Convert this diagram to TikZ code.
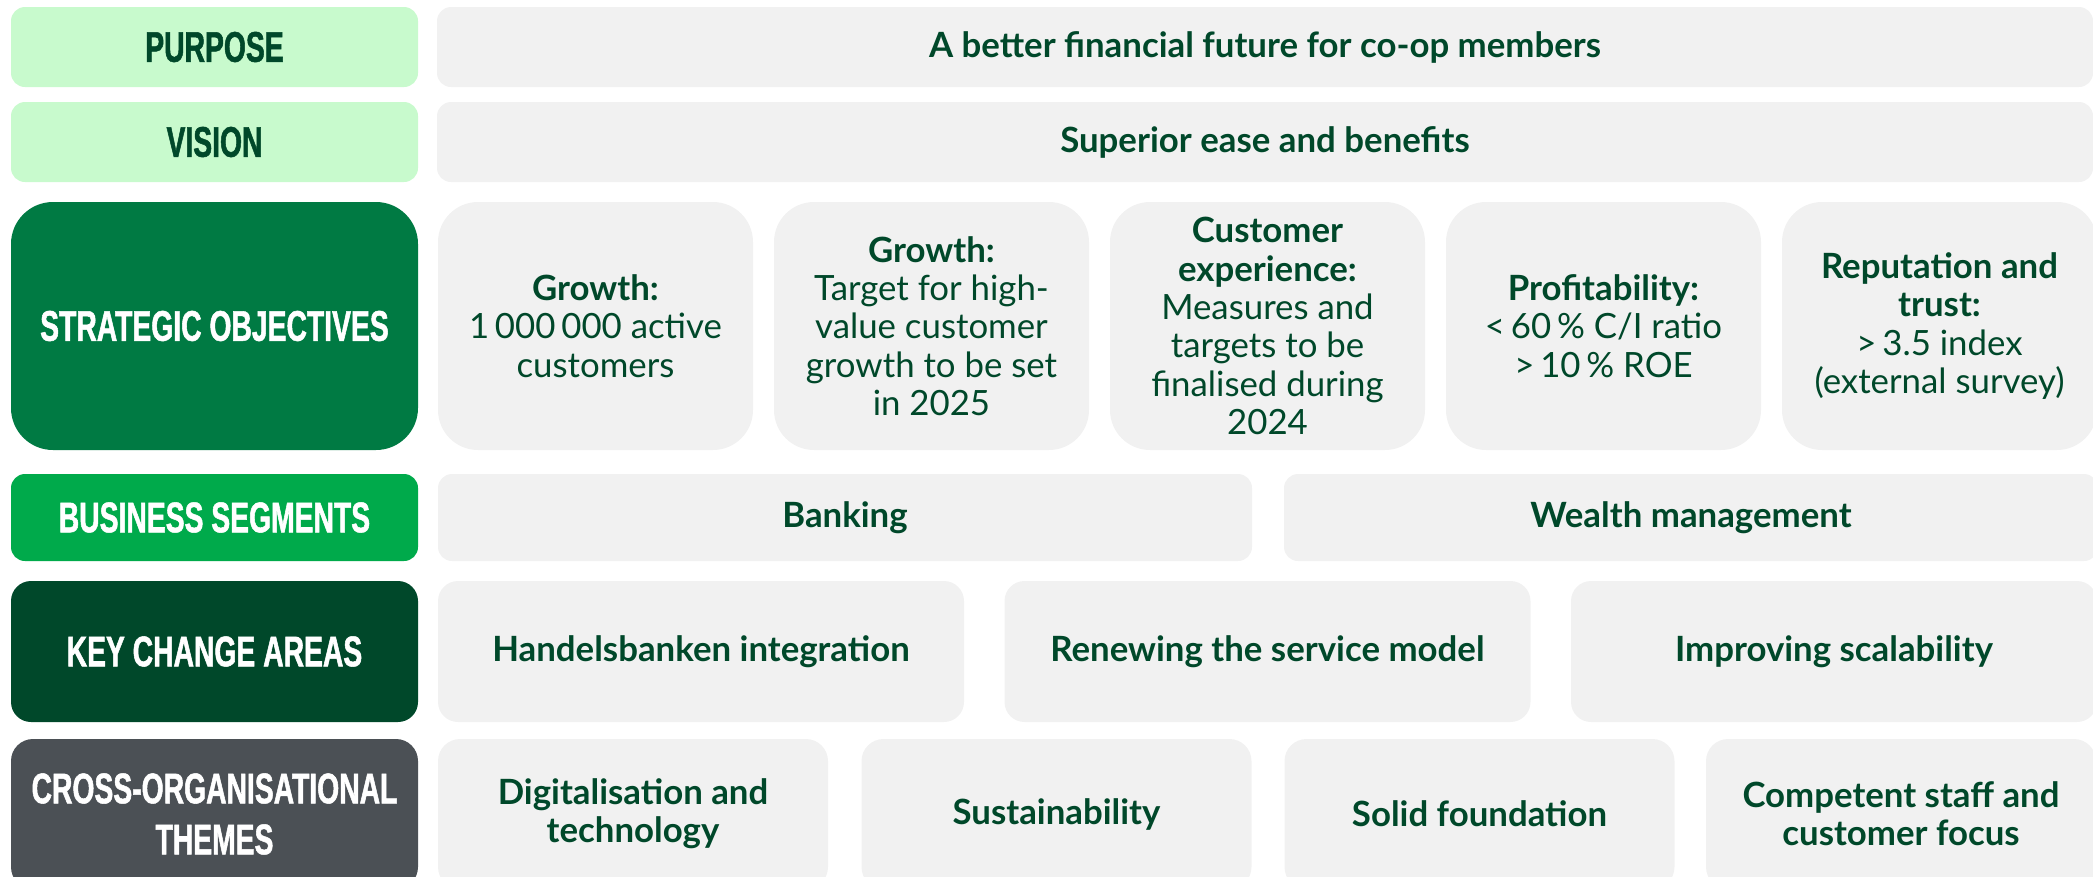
\documentclass[tikz,border=0pt]{standalone}
\usepackage{fontspec}
\setmainfont{Lato}
\newfontfamily\headfont[FakeStretch=0.66, FakeBold=1.2]{Liberation Sans}
\usetikzlibrary{positioning}

\definecolor{mint}{HTML}{C8FACD}
\definecolor{leaf}{HTML}{007A43}
\definecolor{grass}{HTML}{00AA4B}
\definecolor{forest}{HTML}{00482A}
\definecolor{slate}{HTML}{4B5055}
\definecolor{cellgray}{HTML}{F1F1F1}

\tikzset{
  wh/.style n args={2}{minimum width=#1*0.1mm, minimum height=#2*0.1mm}
}

\begin{document}
\begin{tikzpicture}[
  x=0.1mm, y=-0.1mm,
  tag/.style={rounded corners=1.4mm, inner sep=0pt, align=center, text=white,
    font=\headfont\bfseries\fontsize{12.2}{14.5}\selectfont},
  cell/.style={fill=cellgray, rounded corners=1.4mm, inner sep=0pt, align=center,
    text=forest, font=\fontsize{9.9}{10.9}\selectfont},
  goal/.style={cell, rounded corners=4mm, minimum width=31.5mm, minimum height=24.8mm}
]
  \clip (0,0) rectangle (2093,876);

  % row labels on the left
  \node[tag, fill=mint, text=forest, wh={407}{80}] (purpose) at (214.5,47) {PURPOSE};
  \node[tag, fill=mint, text=forest, wh={407}{80}] (vision) at (214.5,142) {VISION};
  \node[tag, fill=leaf, rounded corners=4.2mm, wh={407}{248}] (objectives) at (214.5,326) {STRATEGIC OBJECTIVES};
  \node[tag, fill=grass, wh={407}{87}] (segments) at (214.5,517.5) {BUSINESS SEGMENTS};
  \node[tag, fill=forest, rounded corners=2mm, wh={407}{141}] (change) at (214.5,651.5) {KEY CHANGE AREAS};
  \node[tag, fill=slate, rounded corners=2.2mm, wh={407}{150}] (themes) at (214.5,814)
    {CROSS-ORGANISATIONAL\\THEMES};

  % purpose and vision
  \node[cell, wh={1656}{80}] (purposeTxt) at (1265,47) {\bfseries A better financial future for co-op members};
  \node[cell, wh={1656}{80}] (visionTxt) at (1265,142) {\bfseries Superior ease and benefits};

  % strategic objectives
  \node[goal] (growthA) at (595.5,326) {\textbf{Growth:}\\1\,000\,000 active\\customers};
  \node[goal] (growthB) at (931.5,326) {\textbf{Growth:}\\Target for high-\\value customer\\growth to be set\\in 2025};
  \node[goal] (experience) at (1267.5,326)
    {\textbf{Customer}\\\textbf{experience:}\\Measures and\\targets to be\\finalised during\\2024};
  \node[goal] (profit) at (1603.5,326) {\textbf{Profitability:}\\<\,60\,\% C/I ratio\\>\,10\,\% ROE};
  \node[goal] (reputation) at (1939.5,326)
    {\textbf{Reputation and}\\\textbf{trust:}\\>\,3.5 index\\(external survey)};

  % business segments
  \node[cell, wh={814}{87}] (banking) at (845,517.5) {\bfseries Banking};
  \node[cell, wh={814}{87}] (wealth) at (1691,517.5) {\bfseries Wealth management};

  % key change areas
  \node[cell, rounded corners=2mm, wh={526}{141}] (integration) at (701,651.5) {\bfseries Handelsbanken integration};
  \node[cell, rounded corners=2mm, wh={526}{141}] (service) at (1267.5,651.5) {\bfseries Renewing the service model};
  \node[cell, rounded corners=2mm, wh={526}{141}] (scalability) at (1834,651.5) {\bfseries Improving scalability};

  % cross-organisational themes
  \node[cell, rounded corners=2.2mm, wh={390}{150}] (digital) at (633,814) {\bfseries Digitalisation and\\\bfseries technology};
  \node[cell, rounded corners=2.2mm, wh={390}{150}] (sustain) at (1056.5,814) {\bfseries Sustainability};
  \node[cell, rounded corners=2.2mm, wh={390}{150}] (foundation) at (1479.5,814) {\bfseries Solid foundation};
  \node[cell, rounded corners=2.2mm, wh={390}{150}] (staff) at (1901,814)
    {\bfseries Competent staff and\\\bfseries customer focus};
\end{tikzpicture}
\end{document}
